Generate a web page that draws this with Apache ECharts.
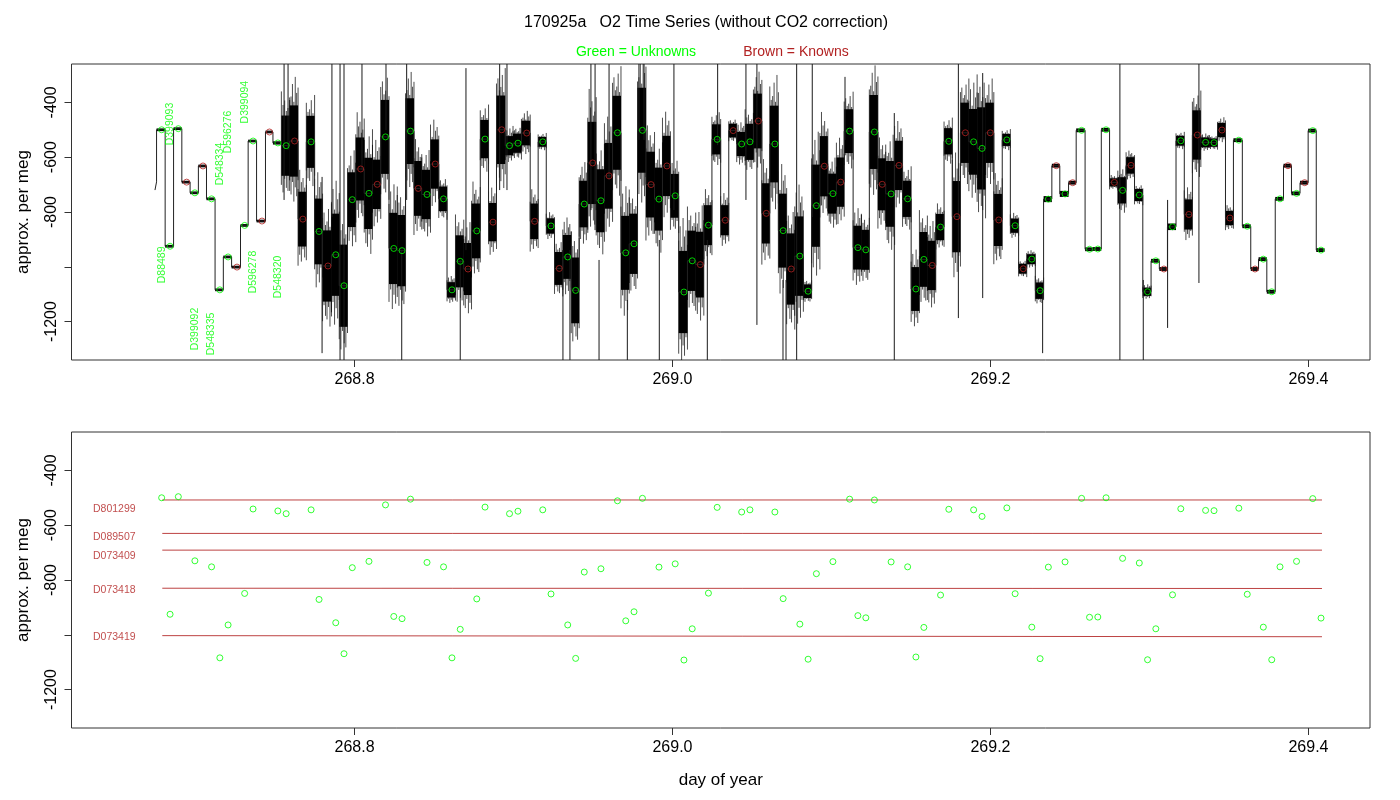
<!DOCTYPE html>
<html>
<head>
<meta charset="utf-8">
<script src="https://cdn.jsdelivr.net/npm/echarts@6/dist/echarts.min.js"></script>
<style>
  html, body { margin: 0; padding: 0; background: #fff; }
  #chart { width: 1400px; height: 800px; }
</style>
</head>
<body>
<div id="chart"></div>
<script>
// unknowns (green), same points in both panels: day of year, per meg, noise half-width of the trace
const greenT = [268.6787, 268.6840, 268.6892, 268.6996, 268.7101, 268.7153, 268.7205, 268.7309, 268.7362, 268.7518,
  268.7570, 268.7727, 268.7777, 268.7882, 268.7934, 268.7986, 268.8091, 268.8195, 268.8247, 268.8299,
  268.8352, 268.8456, 268.8560, 268.8613, 268.8665, 268.8769, 268.8821, 268.8975, 268.9028, 268.9184,
  268.9236, 268.9341, 268.9391, 268.9445, 268.9550, 268.9654, 268.9706, 268.9758, 268.9811, 268.9915,
  269.0017, 269.0072, 269.0124, 269.0226, 269.0281, 269.0435, 269.0487, 269.0644, 269.0696, 269.0801,
  269.0853, 269.0905, 269.1009, 269.1114, 269.1166, 269.1216, 269.1270, 269.1375, 269.1479, 269.1531,
  269.1581, 269.1686, 269.1738, 269.1894, 269.1947, 269.2103, 269.2155, 269.2260, 269.2312, 269.2364,
  269.2469, 269.2573, 269.2623, 269.2675, 269.2727, 269.2831, 269.2936, 269.2988, 269.3040, 269.3145,
  269.3197, 269.3353, 269.3406, 269.3562, 269.3615, 269.3716, 269.3769, 269.3821, 269.3925, 269.4027, 269.4079];
const greenV = [-500, -925, -496, -730, -752, -1084, -964, -849, -541, -548,
  -558, -544, -871, -956, -1069, -755, -732, -526, -933, -941,
  -505, -736, -752, -1084, -980, -869, -534, -558, -549, -544,
  -851, -964, -1086, -771, -759, -511, -949, -916, -502, -753,
  -741, -1092, -978, -848, -535, -552, -544, -552, -868, -961,
  -1089, -777, -733, -505, -930, -938, -508, -734, -752, -1081,
  -973, -855, -542, -544, -568, -537, -850, -972, -1087, -753,
  -734, -502, -936, -935, -500, -721, -738, -1091, -978, -854,
  -540, -546, -547, -538, -852, -972, -1091, -752, -732, -503, -939];
const greenN = [5, 5, 5, 5, 5, 5, 5, 5, 5, 6,
  110, 95, 120, 150, 150, 100, 130, 135, 130, 130,
  120, 90, 45, 28, 95, 100, 70, 35, 35, 18,
  28, 80, 120, 85, 115, 135, 135, 110, 155, 115,
  80, 150, 110, 73, 55, 44, 66, 140, 135, 145,
  25, 150, 73, 80, 80, 73, 135, 120, 66, 80,
  100, 48, 48, 120, 150, 22, 26, 18, 30, 11,
  11, 7, 7, 7, 7, 48, 22, 15, 7, 12,
  18, 18, 15, 7, 7, 7, 7, 7, 7, 7, 7];

// knowns (brown), top panel only
const brownT = [268.6944, 268.7047, 268.7261, 268.7418, 268.7465, 268.7623, 268.7675, 268.7833, 268.8039, 268.8143,
  268.8401, 268.8508, 268.8714, 268.8871, 268.8926, 268.9083, 268.9133, 268.9288, 268.9498, 268.9601,
  268.9865, 268.9965, 269.0175, 269.0332, 269.0382, 269.0540, 269.0590, 269.0747, 269.0955, 269.1058,
  269.1319, 269.1425, 269.1634, 269.1789, 269.1842, 269.1999, 269.2052, 269.2206, 269.2414, 269.2517,
  269.2779, 269.2884, 269.3091, 269.3248, 269.3301, 269.3456, 269.3506, 269.3664, 269.3871, 269.3976];
const brownV = [-691, -632, -1001, -833, -508, -541, -826, -997, -643, -699,
  -714, -625, -1008, -837, -500, -512, -834, -1006, -621, -668,
  -700, -632, -992, -830, -503, -468, -805, -1008, -633, -691,
  -699, -630, -995, -817, -511, -511, -829, -1007, -631, -693,
  -692, -630, -1008, -809, -519, -501, -822, -1008, -631, -693];
const brownN = [5, 5, 5, 5, 5, 130, 100, 130, 115, 90,
  100, 90, 95, 70, 125, 45, 65, 60, 150, 120,
  120, 110, 120, 55, 25, 100, 110, 130, 110, 90,
  95, 90, 90, 130, 110, 110, 95, 18, 7, 7,
  15, 30, 7, 55, 90, 26, 26, 7, 7, 7];

// first bit of the trace before the first sample
const leadT = [268.6745, 268.6755];
const leadV = [-720, -690];

// long single spikes in the trace: time, upper end, lower end
const spikeT = [268.7557, 268.7582, 268.7796, 268.7858, 268.7909, 268.7934, 268.8047, 268.8198, 268.8297, 268.8328,
  268.8665, 268.8701, 268.8913, 268.8959, 268.9311, 268.9355, 268.9487, 268.9513, 268.9538, 268.9601,
  268.9716, 268.9789, 268.9821, 268.9917, 269.0009, 269.0219, 269.0284, 269.0462, 269.0531, 269.0695,
  269.0714, 269.0781, 269.0879, 269.1085, 269.1395, 269.1798, 269.1951, 269.2328, 269.2814, 269.2961,
  269.3114, 269.3311];
const spikeHi = [-260, -260, -672, -260, -260, -260, -260, -260, -939, -260,
  -975, -275, -260, -260, -939, -939, -260, -260, -975, -260,
  -1121, -260, -260, -902, -260, -902, -260, -260, -260, -1048,
  -1048, -260, -260, -307, -439, -260, -293, -1085, -260, -1048,
  -756, -260];
const spikeLo = [-756, -574, -1315, -818, -1340, -1340, -647, -501, -1340, -756,
  -1340, -939, -720, -720, -1340, -1340, -793, -866, -1340, -683,
  -1340, -537, -537, -1340, -793, -1340, -556, -756, -1212, -1340,
  -1340, -1340, -818, -537, -1340, -1187, -1114, -1315, -1340, -1340,
  -1223, -1059];

// sample names written in the top panel
const topLabelNames = ['D88489', 'D399093', 'D399092', 'D548335', 'D548334', 'D596276', 'D399094', 'D596278', 'D548320'];
const topLabelT = [268.6787, 268.6840, 268.6996, 268.7101, 268.7153, 268.7205, 268.7309, 268.7362, 268.7518];
const topLabelV = [-993, -479, -1227, -1245, -625, -508, -399, -1019, -1037];

// known standards in the bottom panel
const knownNames = ['D801299', 'D089507', 'D073409', 'D073418', 'D073419'];
const knownV0 = [-508, -630, -691, -830, -1003];
const knownV1 = [-508, -630, -691, -831, -1007];
const knownT0 = 268.6791;
const knownT1 = 269.4085;
const knownLabelT = 268.6489;
const knownLabelV = [-541, -643, -712, -837, -1008];

const xTicks = [268.8, 269.0, 269.2, 269.4];
const yTicks = [-1200, -1000, -800, -600, -400];
const yLabels = [-1200, -800, -600, -400];

const X_MIN = 268.6220, X_MAX = 269.4387;
const Y_MIN = -1340, Y_MAX = -260;
const FONT = 'Liberation Sans, Arial, Helvetica, sans-serif';
const GREEN = '#00ff00';
const BROWN = '#b22222';

// plateaus of the trace: one per sample, level = sample value
const samples = greenT.map((t, i) => ({ t, v: greenV[i], n: greenN[i] }))
  .concat(brownT.map((t, i) => ({ t, v: brownV[i], n: brownN[i] })))
  .sort((a, b) => a.t - b.t);
const HALF = 0.0022;
const plateaus = samples.map((s, i) => [
  i === 0 ? leadT[leadT.length - 1] : samples[i - 1].t + HALF,
  s.t + HALF, s.v, s.n
]);
const stepPts = leadT.map((t, i) => [t, leadV[i]]);
plateaus.forEach(p => { stepPts.push([p[0], p[2]]); stepPts.push([p[1], p[2]]); });

// hatch lengths used to draw the ragged edge of the noise band (multiples of the half-width)
const hatchUp = [1.25, 1.6, 1.1, 1.8, 1.35, 1.5, 1.15];
const hatchDown = [1.5, 1.15, 1.7, 1.3, 1.55, 1.1, 1.4];

const chart = echarts.init(document.getElementById('chart'));

function xAxis(gridIndex, name) {
  return {
    type: 'value', gridIndex, min: X_MIN, max: X_MAX,
    axisLine: { show: false }, splitLine: { show: false },
    axisTick: { show: true, customValues: xTicks, length: 7, lineStyle: { color: '#333' } },
    axisLabel: { customValues: xTicks, formatter: v => v.toFixed(1), fontSize: 16, color: '#000', margin: 12, fontFamily: FONT },
    name, nameLocation: 'middle', nameGap: 44,
    nameTextStyle: { fontSize: 17, color: '#000', fontFamily: FONT }
  };
}
function yAxis(gridIndex) {
  return {
    type: 'value', gridIndex, min: Y_MIN, max: Y_MAX,
    axisLine: { show: false }, splitLine: { show: false },
    axisTick: { show: true, customValues: yTicks, length: 7, lineStyle: { color: '#333' } },
    axisLabel: { customValues: yLabels, formatter: v => String(v), rotate: 90, fontSize: 16, color: '#000', margin: 12, fontFamily: FONT },
    name: 'approx. per meg', nameLocation: 'middle', nameRotate: 90, nameGap: 40,
    nameTextStyle: { fontSize: 17, color: '#000', fontFamily: FONT }
  };
}

function renderNoise(params, api) {
  const t0 = api.value(0), t1 = api.value(1), v = api.value(2), n = api.value(3);
  const c0 = api.coord([t0, v + n]), c1 = api.coord([t1, v - n]);
  const children = [
    { type: 'rect', shape: { x: c0[0], y: c0[1], width: c1[0] - c0[0], height: c1[1] - c0[1] }, style: { fill: '#000' } }
  ];
  if (n > 12) {
    const w = c1[0] - c0[0];
    const steps = Math.max(2, Math.floor(w / 1.4));
    for (let k = 0; k <= steps; k++) {
      const x = c0[0] + (w * k) / steps;
      const j = (params.dataIndex * 3 + k) % hatchUp.length;
      const top = api.coord([t0, v + n * hatchUp[j]])[1];
      const bot = api.coord([t0, v - n * hatchDown[j]])[1];
      children.push({ type: 'line', shape: { x1: x, y1: top, x2: x, y2: bot }, style: { stroke: 'rgba(0,0,0,0.7)', lineWidth: 1 } });
    }
  }
  return { type: 'group', children };
}

const option = {
  animation: false,
  backgroundColor: '#fff',
  textStyle: { fontFamily: FONT },
  graphic: [
    { type: 'text', style: { text: '170925a   O2 Time Series (without CO2 correction)', x: 706, y: 23, align: 'center', verticalAlign: 'middle', fill: '#000', font: '16px ' + FONT } },
    { type: 'text', style: { text: 'Green = Unknowns', x: 636, y: 52, align: 'center', verticalAlign: 'middle', fill: GREEN, font: '14px ' + FONT } },
    { type: 'text', style: { text: 'Brown = Knowns', x: 796, y: 52, align: 'center', verticalAlign: 'middle', fill: BROWN, font: '14px ' + FONT } }
  ],
  grid: [
    { left: 71.5, top: 64, width: 1298.5, height: 296, show: true, borderColor: '#333', borderWidth: 1, backgroundColor: 'transparent' },
    { left: 71.5, top: 432, width: 1298.5, height: 296, show: true, borderColor: '#333', borderWidth: 1, backgroundColor: 'transparent' }
  ],
  xAxis: [xAxis(0, ''), xAxis(1, 'day of year')],
  yAxis: [yAxis(0), yAxis(1)],
  series: [
    {
      type: 'custom', xAxisIndex: 0, yAxisIndex: 0, clip: true, z: 1,
      data: plateaus, renderItem: renderNoise
    },
    {
      type: 'line', xAxisIndex: 0, yAxisIndex: 0, data: stepPts, showSymbol: false, z: 2,
      lineStyle: { color: '#222', width: 1 }, clip: true
    },
    {
      type: 'custom', xAxisIndex: 0, yAxisIndex: 0, clip: true, z: 2,
      data: spikeT.map((t, i) => [t, spikeHi[i], spikeLo[i]]),
      renderItem: (params, api) => {
        const a = api.coord([api.value(0), api.value(1)]);
        const b = api.coord([api.value(0), api.value(2)]);
        return { type: 'line', shape: { x1: a[0], y1: a[1], x2: b[0], y2: b[1] }, style: { stroke: '#1a1a1a', lineWidth: 1 } };
      }
    },
    {
      type: 'scatter', xAxisIndex: 0, yAxisIndex: 0, z: 5,
      data: brownT.map((t, i) => [t, brownV[i]]),
      symbol: 'circle', symbolSize: 6,
      itemStyle: { color: 'transparent', borderColor: BROWN, borderWidth: 1 }
    },
    {
      type: 'scatter', xAxisIndex: 0, yAxisIndex: 0, z: 5,
      data: greenT.map((t, i) => [t, greenV[i]]),
      symbol: 'circle', symbolSize: 6,
      itemStyle: { color: 'transparent', borderColor: GREEN, borderWidth: 1 }
    },
    {
      type: 'scatter', xAxisIndex: 0, yAxisIndex: 0, z: 6,
      data: topLabelNames.map((s, i) => [topLabelT[i], topLabelV[i], s]),
      symbolSize: 0.1, itemStyle: { color: 'transparent' },
      label: {
        show: true, position: 'inside', rotate: 90, formatter: p => p.data[2],
        color: GREEN, fontSize: 10.5, fontFamily: FONT
      }
    },
    // bottom panel
    ...knownNames.map((k, i) => ({
      type: 'line', xAxisIndex: 1, yAxisIndex: 1, showSymbol: false, z: 2,
      data: [[knownT0, knownV0[i]], [knownT1, knownV1[i]]],
      lineStyle: { color: BROWN, width: 1, opacity: 0.85 }
    })),
    {
      type: 'scatter', xAxisIndex: 1, yAxisIndex: 1, z: 5,
      data: greenT.map((t, i) => [t, greenV[i]]),
      symbol: 'circle', symbolSize: 6,
      itemStyle: { color: 'transparent', borderColor: GREEN, borderWidth: 1 }
    },
    {
      type: 'scatter', xAxisIndex: 1, yAxisIndex: 1, z: 6,
      data: knownNames.map((k, i) => [knownLabelT, knownLabelV[i], k]),
      symbolSize: 0.1, itemStyle: { color: 'transparent' },
      label: {
        show: true, position: 'inside', formatter: p => p.data[2],
        color: BROWN, fontSize: 10.5, fontFamily: FONT
      }
    }
  ]
};
chart.setOption(option);
</script>
</body>
</html>
